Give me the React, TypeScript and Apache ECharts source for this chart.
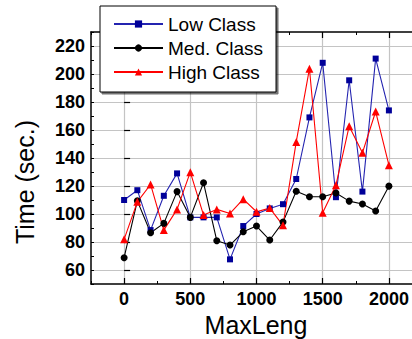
import React, { useEffect, useRef } from "react";
import * as echarts from "echarts";

const maxLeng = [0, 100, 200, 300, 400, 500, 600, 700, 800, 900, 1000, 1100, 1200, 1300, 1400, 1500, 1600, 1700, 1800, 1900, 2000];
const lowClass = [110, 117, 88.5, 113, 129, 97.6, 97.6, 97.6, 67.6, 91.4, 100, 104, 107, 125, 169, 208, 112, 195.5, 116, 211, 174];
const medClass = [68.8, 109.4, 86.6, 93.3, 116, 97.6, 122.3, 80.9, 77.8, 87.3, 91.4, 81.4, 94.2, 116.3, 112.3, 112.3, 115, 109.2, 107.1, 102.1, 119.9];
const highClass = [81.9, 108.7, 121.1, 88.5, 103.3, 129.9, 99.2, 103.3, 100.4, 110.6, 101.6, 104.2, 91.9, 151.5, 203.8, 100.9, 120.6, 162.7, 143.7, 173.2, 134.9];
const xTickLabels = [0, 500, 1000, 1500, 2000];
const yTickLabels = [60, 80, 100, 120, 140, 160, 180, 200, 220];

const FONT = "'Liberation Sans', Arial, Helvetica, sans-serif";

export default function App() {
  const ref = useRef<HTMLDivElement>(null);
  useEffect(() => {
    document.body.style.margin = "0";
    const chart = echarts.init(ref.current!, null, { renderer: "svg" });
    const axisLine = { show: true, onZero: false, lineStyle: { color: "#000", width: 1.5 } };
    const gridLine = { show: true, lineStyle: { color: "#c4c4c4", width: 1.2 } };
    const xBase = { type: "value", min: -250, max: 2250, gridIndex: 0 };
    const yBase = { type: "value", min: 50, max: 230, gridIndex: 0 };
    const plain = (v: number) => String(v);
    const mk = (name: string, data: number[], symbol: string, size: number, fill: string, stroke: string) => ({
      name,
      type: "line",
      xAxisIndex: 0,
      yAxisIndex: 0,
      data: maxLeng.map((x, i) => [x, data[i]]),
      symbol,
      symbolSize: size,
      showAllSymbol: true,
      itemStyle: { color: fill },
      lineStyle: { color: stroke, width: 1.1 },
      z: 3,
    });
    chart.setOption({
      animation: false,
      backgroundColor: "#fff",
      grid: { left: 91, top: 32, right: 18, bottom: 55, containLabel: false },
      legend: {
        left: 100,
        top: 6,
        orient: "vertical",
        data: ["Low Class", "Med. Class", "High Class"],
        itemWidth: 49,
        itemHeight: 9,
        itemGap: 4,
        padding: [8, 13, 10, 13],
        backgroundColor: "#fff",
        borderColor: "#000",
        borderWidth: 1,
        shadowColor: "rgba(0,0,0,0.55)",
        shadowOffsetX: 2,
        shadowOffsetY: 2,
        shadowBlur: 0,
        textStyle: { color: "#000", fontSize: 19, fontFamily: FONT, lineHeight: 20 },
        z: 10,
      },
      xAxis: [
        {
          ...xBase,
          position: "bottom",
          interval: 250,
          axisLine,
          axisTick: { show: true, inside: true, length: 3, lineStyle: { color: "#000", width: 1 } },
          axisLabel: { show: false },
          splitLine: { show: false },
        },
        {
          ...xBase,
          position: "bottom",
          interval: 250,
          axisLine: { show: false },
          axisTick: { show: true, inside: true, length: 6, customValues: xTickLabels, lineStyle: { color: "#000", width: 1.2 } },
          axisLabel: { show: true, customValues: xTickLabels, formatter: plain, margin: 6, color: "#000", fontSize: 18, fontWeight: "bold", fontFamily: FONT },
          splitLine: gridLine,
        },
        {
          ...xBase,
          position: "top",
          interval: 250,
          axisLine,
          axisTick: { show: true, inside: true, length: 3, lineStyle: { color: "#000", width: 1 } },
          axisLabel: { show: false },
          splitLine: { show: false },
        },
        {
          ...xBase,
          position: "top",
          interval: 250,
          axisLine: { show: false },
          axisTick: { show: true, inside: true, length: 6, customValues: xTickLabels, lineStyle: { color: "#000", width: 1.2 } },
          axisLabel: { show: false },
          splitLine: { show: false },
        },
      ],
      yAxis: [
        {
          ...yBase,
          position: "left",
          interval: 10,
          axisLine,
          axisTick: { show: true, inside: true, length: 3, lineStyle: { color: "#000", width: 1 } },
          axisLabel: { show: false },
          splitLine: { show: false },
        },
        {
          ...yBase,
          position: "left",
          interval: 10,
          axisLine: { show: false },
          axisTick: { show: true, inside: true, length: 6, customValues: yTickLabels, lineStyle: { color: "#000", width: 1.2 } },
          axisLabel: { show: true, customValues: yTickLabels, formatter: plain, margin: 6, color: "#000", fontSize: 18, fontWeight: "bold", fontFamily: FONT },
          splitLine: gridLine,
        },
      ],
      graphic: [
        {
          type: "text",
          x: 256,
          y: 325,
          style: { text: "MaxLeng", fontSize: 25, fontFamily: FONT, fill: "#000", align: "center", verticalAlign: "middle" },
        },
        {
          type: "text",
          x: 25,
          y: 182,
          rotation: Math.PI / 2,
          style: { text: "Time (sec.)", fontSize: 25, fontFamily: FONT, fill: "#000", align: "center", verticalAlign: "middle" },
        },
      ],
      series: [
        mk("Low Class", lowClass, "rect", 6, "#000099", "#2424b0"),
        mk("Med. Class", medClass, "circle", 7, "#000000", "#000000"),
        mk("High Class", highClass, "triangle", 8, "#ff0000", "#ff0000"),
      ],
    });
    return () => chart.dispose();
  }, []);
  return (
    <div style={{ width: 412, height: 339, overflow: "hidden", position: "relative" }}>
      <div ref={ref} style={{ width: 440, height: 339 }} />
    </div>
  );
}
